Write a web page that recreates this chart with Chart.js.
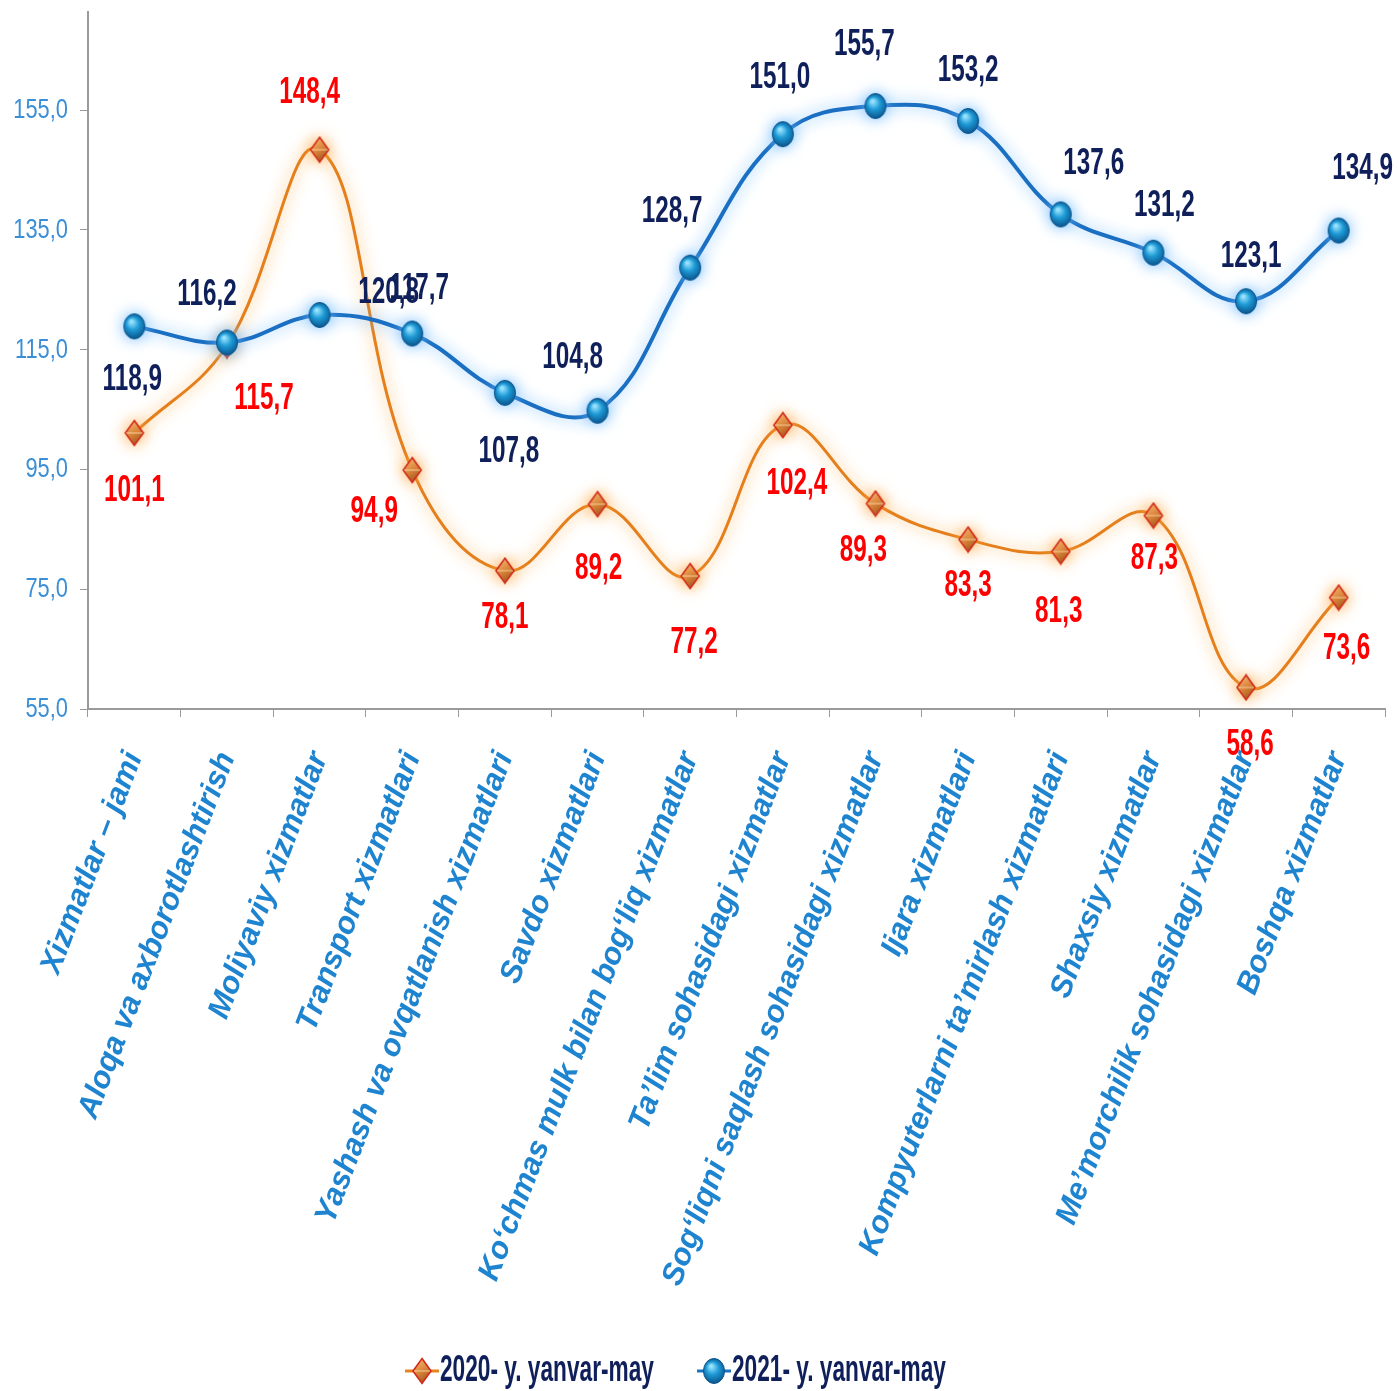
<!DOCTYPE html>
<html lang="uz">
<head>
<meta charset="utf-8">
<title>Xizmatlar – 2020/2021 yanvar-may</title>
<script src="https://cdn.jsdelivr.net/npm/chart.js"></script>
<style>
  html, body { margin: 0; padding: 0; background: #fff; }
  #wrap { width: 1399px; height: 1391px; position: relative; }
</style>
</head>
<body>
<div id="wrap"><canvas id="chart"></canvas></div>
<script>
const categories = [
  'Xizmatlar – jami',
  'Aloqa va axborotlashtirish',
  'Moliyaviy xizmatlar',
  'Transport xizmatlari',
  'Yashash va ovqatlanish xizmatlari',
  'Savdo xizmatlari',
  'Ko‘chmas mulk bilan bog‘liq xizmatlar',
  'Ta’lim sohasidagi xizmatlar',
  'Sog‘liqni saqlash sohasidagi xizmatlar',
  'Ijara xizmatlari',
  'Kompyuterlarni ta’mirlash xizmatlari',
  'Shaxsiy xizmatlar',
  'Me’morchilik sohasidagi xizmatlar',
  'Boshqa xizmatlar'
];
const values2020 = [101.1, 115.7, 148.4, 94.9, 78.1, 89.2, 77.2, 102.4, 89.3, 83.3, 81.3, 87.3, 58.6, 73.6];
const values2021 = [118.9, 116.2, 120.8, 117.7, 107.8, 104.8, 128.7, 151.0, 155.7, 153.2, 137.6, 131.2, 123.1, 134.9];
const yTicks = [55, 75, 95, 115, 135, 155];
const seriesNames = ['2020- y. yanvar-may', '2021- y. yanvar-may'];

// where each value label sits relative to its point (px)
const offsets2020 = [[0,58],[37,53],[-10,-57],[-38,42],[0,47],[1,64],[4,67],[14,58],[-12,47],[0,46],[-2,60],[1,43],[4,57],[8,51]];
const offsets2021 = [[-2,53],[-20,-48],[69,-22],[7,-45],[4,59],[-25,-53],[-18,-56],[-3,-57],[-11,-61],[0,-50],[33,-51],[11,-47],[5,-45],[24,-62]];

const SANS = "'Liberation Sans', Arial, sans-serif";
const fmt = v => v.toFixed(1).replace('.', ',');

// the source picture uses a tall condensed face; squeeze Liberation Sans to match
function tallText(ctx, text, x, y, sx, sy) {
  ctx.save();
  ctx.translate(x, y);
  ctx.scale(sx, sy);
  ctx.fillText(text, 0, 0);
  ctx.restore();
}

// little shaded markers, slightly taller than wide like in the source
function makeMarker(kind) {
  const c = document.createElement('canvas');
  const g = c.getContext('2d');
  if (kind === 'diamond') {
    c.width = 22; c.height = 28;
    const gr = g.createLinearGradient(4, 3, 18, 25);
    gr.addColorStop(0, '#f6b871');
    gr.addColorStop(0.5, '#d9843a');
    gr.addColorStop(1, '#9c4f18');
    g.fillStyle = gr;
    g.strokeStyle = '#d12a1c';
    g.lineWidth = 1.6;
    g.beginPath(); g.moveTo(11, 1.5); g.lineTo(20, 14); g.lineTo(11, 26.5); g.lineTo(2, 14); g.closePath();
    g.fill(); g.stroke();
    g.strokeStyle = 'rgba(255,225,180,0.8)'; g.lineWidth = 1;
    g.beginPath(); g.moveTo(3, 14); g.lineTo(19, 14); g.stroke();
  } else {
    c.width = 24; c.height = 28;
    const gr = g.createRadialGradient(9, 9, 1, 12, 14, 13);
    gr.addColorStop(0, '#9be4ff');
    gr.addColorStop(0.45, '#1d9ad6');
    gr.addColorStop(1, '#0a4f86');
    g.fillStyle = gr;
    g.beginPath(); g.ellipse(12, 14, 10.5, 12.5, 0, 0, Math.PI * 2); g.fill();
    g.strokeStyle = '#0b5690'; g.lineWidth = 1; g.stroke();
  }
  return c;
}
const diamondImg = makeMarker('diamond');
const circleImg = makeMarker('circle');

const glow = {
  id: 'glow',
  beforeDatasetDraw(chart, args) {
    const ctx = chart.ctx;
    ctx.save();
    ctx.shadowColor = args.index === 0 ? 'rgba(110,185,255,1)' : 'rgba(255,165,60,1)';
    ctx.shadowBlur = 16;
  },
  afterDatasetDraw(chart) { chart.ctx.restore(); }
};

const texts = {
  id: 'texts',
  afterDraw(chart) {
    const ctx = chart.ctx;
    const y = chart.scales.y;
    ctx.save();

    // y tick labels
    ctx.font = '27px ' + SANS;
    ctx.fillStyle = '#3b8fd6';
    ctx.textAlign = 'right';
    ctx.textBaseline = 'middle';
    yTicks.forEach(v => tallText(ctx, fmt(v), y.right - 20, y.getPixelForValue(v), 0.81, 1.05));

    // value labels
    ctx.font = 'bold 30px ' + SANS;
    ctx.textAlign = 'center';
    const sets = [
      { meta: chart.getDatasetMeta(1), vals: values2020, off: offsets2020, color: '#ff0000' },
      { meta: chart.getDatasetMeta(0), vals: values2021, off: offsets2021, color: '#0f1f5a' }
    ];
    sets.forEach(s => {
      ctx.fillStyle = s.color;
      s.meta.data.forEach((pt, i) => {
        tallText(ctx, fmt(s.vals[i]), pt.x + s.off[i][0], pt.y + s.off[i][1], 0.81, 1.26);
      });
    });

    // legend
    const ly = 1371;
    const items = [
      { img: diamondImg, color: '#e8821e', text: seriesNames[0], x0: 405 },
      { img: circleImg, color: '#1a72c2', text: seriesNames[1], x0: 697 }
    ];
    ctx.font = 'bold 28px ' + SANS;
    ctx.textAlign = 'left';
    items.forEach(it => {
      ctx.strokeStyle = it.color; ctx.lineWidth = 3;
      ctx.beginPath(); ctx.moveTo(it.x0, ly); ctx.lineTo(it.x0 + 34, ly); ctx.stroke();
      ctx.drawImage(it.img, it.x0 + 17 - it.img.width / 2, ly - it.img.height / 2);
      ctx.fillStyle = '#0f1f5a';
      tallText(ctx, it.text, it.x0 + 35, ly, 0.81, 1.3);
    });
    ctx.restore();
  }
};

new Chart(document.getElementById('chart'), {
  type: 'line',
  data: {
    labels: categories,
    datasets: [
      {
        label: seriesNames[1],
        data: values2021,
        borderColor: '#1a6fc2',
        borderWidth: 4,
        tension: 0.4,
        pointStyle: circleImg
      },
      {
        label: seriesNames[0],
        data: values2020,
        borderColor: '#e47f1c',
        borderWidth: 3,
        tension: 0.4,
        pointStyle: diamondImg
      }
    ]
  },
  options: {
    responsive: true,
    maintainAspectRatio: false,
    animation: false,
    layout: { padding: { top: 12, right: 14, left: 0, bottom: 52 } },
    plugins: {
      tooltip: { enabled: false },
      legend: { display: false }
    },
    scales: {
      x: {
        offset: true,
        grid: { display: true, drawOnChartArea: false, color: '#9a9a9a', tickLength: 8, offset: true },
        border: { color: '#9a9a9a', width: 2 },
        ticks: {
          color: '#1e84d0',
          font: { family: SANS, size: 31, weight: 'bold', style: 'italic' },
          minRotation: 69,
          maxRotation: 69,
          autoSkip: false,
          padding: 30
        },
        afterFit: s => { s.height = 630; s.paddingLeft = 0; s.paddingRight = 0; }
      },
      y: {
        min: 55,
        max: 171.4,
        grid: { display: true, drawOnChartArea: false, color: '#9a9a9a', tickLength: 8 },
        border: { color: '#9a9a9a', width: 2 },
        afterBuildTicks: s => { s.ticks = yTicks.map(v => ({ value: v })); },
        ticks: { display: false },
        afterFit: s => { s.width = 88; }
      }
    }
  },
  plugins: [glow, texts]
});
</script>
</body>
</html>
